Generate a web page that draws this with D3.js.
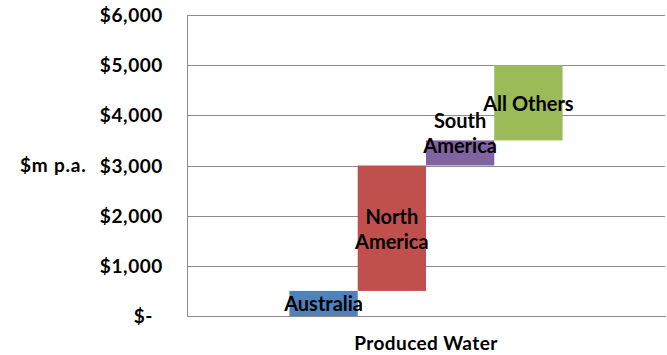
<!DOCTYPE html>
<html>
<head>
<meta charset="utf-8">
<script src="https://cdn.jsdelivr.net/npm/d3@7"></script>
<style>
  html, body { margin: 0; padding: 0; background: #fff; }
  svg { display: block; }
  text { font-family: Lato, "Open Sans", sans-serif; font-weight: bold; fill: #000; }
</style>
</head>
<body>
<svg id="chart" width="667" height="355"></svg>
<script>
// ---- data ----
const groupName = ["Produced Water"];
const categories = ["Australia", "North America", "South America", "All Others"];
const values = [500, 2500, 500, 1500];
const labelLines = [["Australia"], ["North", "America"], ["South", "America"], ["All Others"]];
const colors = ["#4F81BD", "#C0504D", "#8064A2", "#9BBB59"];
const tickValues = [0, 1000, 2000, 3000, 4000, 5000, 6000];
const tickLabels = ["$-", "$1,000", "$2,000", "$3,000", "$4,000", "$5,000", "$6,000"];
const yTitle = "$m p.a.";

// ---- layout ----
const W = 667, H = 355;
const plot = { left: 187, right: 665, top: 15, bottom: 316 };

const svg = d3.select("#chart");

// waterfall bases
let running = 0;
const bars = categories.map((c, i) => {
  const start = running;
  running += values[i];
  return { cat: c, start, end: running, color: colors[i], lines: labelLines[i] };
});

const y = d3.scaleLinear().domain([0, 6000]).range([plot.bottom, plot.top]);
const x0 = d3.scaleBand().domain(groupName).range([plot.left, plot.right]).paddingInner(0).paddingOuter(0.375);
const x1 = d3.scaleBand().domain(categories).range([0, x0.bandwidth()]).padding(0);

// gridlines
const grid = svg.append("g")
  .attr("transform", `translate(${plot.left},0)`)
  .call(d3.axisLeft(y).tickValues(tickValues.filter(v => v > 0)).tickSize(-(plot.right - plot.left)).tickFormat(""));
grid.select(".domain").remove();
grid.selectAll("line").attr("stroke", "#8c8c8c").attr("stroke-width", 1).attr("shape-rendering", "crispEdges");

// bars
const gBars = svg.append("g").attr("transform", `translate(${x0(groupName[0])},0)`);
gBars.selectAll("rect").data(bars).join("rect")
  .attr("x", d => x1(d.cat))
  .attr("width", x1.bandwidth())
  .attr("y", d => y(d.end))
  .attr("height", d => y(d.start) - y(d.end))
  .attr("fill", d => d.color);

// y axis
const yAxis = svg.append("g")
  .attr("transform", `translate(${plot.left},0)`)
  .call(d3.axisLeft(y).tickValues(tickValues).tickSize(0).tickPadding(24)
    .tickFormat((v, i) => tickLabels[i]));
yAxis.select(".domain").attr("stroke", "#8c8c8c").attr("shape-rendering", "crispEdges");
yAxis.selectAll("text")
  .style("font-family", "Lato, sans-serif").style("font-weight", "bold")
  .style("font-size", "19px").style("letter-spacing", "0.6px").attr("fill", "#000")
  .attr("dx", v => v === 0 ? -10 : 0)
  .attr("dy", "0.35em");

// x axis
const xAxis = svg.append("g")
  .attr("transform", `translate(0,${plot.bottom})`)
  .call(d3.axisBottom(d3.scaleBand().domain(groupName).range([plot.left, plot.right])).tickSize(0).tickPadding(21));
xAxis.select(".domain").attr("stroke", "#8c8c8c").attr("shape-rendering", "crispEdges");
xAxis.selectAll("text")
  .style("font-family", "Lato, sans-serif").style("font-weight", "bold")
  .style("font-size", "19px").style("letter-spacing", "0.4px").attr("fill", "#000");

// y title
svg.append("text")
  .attr("x", 20).attr("y", y(3000)).attr("dy", "0.35em")
  .style("font-size", "19px").style("letter-spacing", "0.8px")
  .text(yTitle);

// bar labels
const labelOffset = { "South America": -20 };
const lineH = 25;
const gLab = svg.append("g").attr("transform", `translate(${x0(groupName[0])},0)`);
bars.forEach(d => {
  const cx = x1(d.cat) + x1.bandwidth() / 2;
  const cy = (y(d.start) + y(d.end)) / 2 + (labelOffset[d.cat] || 0);
  const n = d.lines.length;
  const t = gLab.append("text")
    .attr("text-anchor", "middle")
    .style("font-size", "20px");
  d.lines.forEach((ln, j) => {
    t.append("tspan")
      .attr("x", cx)
      .attr("y", cy + (j - (n - 1) / 2) * lineH + 1)
      .attr("dy", "0.35em")
      .text(ln);
  });
});
</script>
</body>
</html>
